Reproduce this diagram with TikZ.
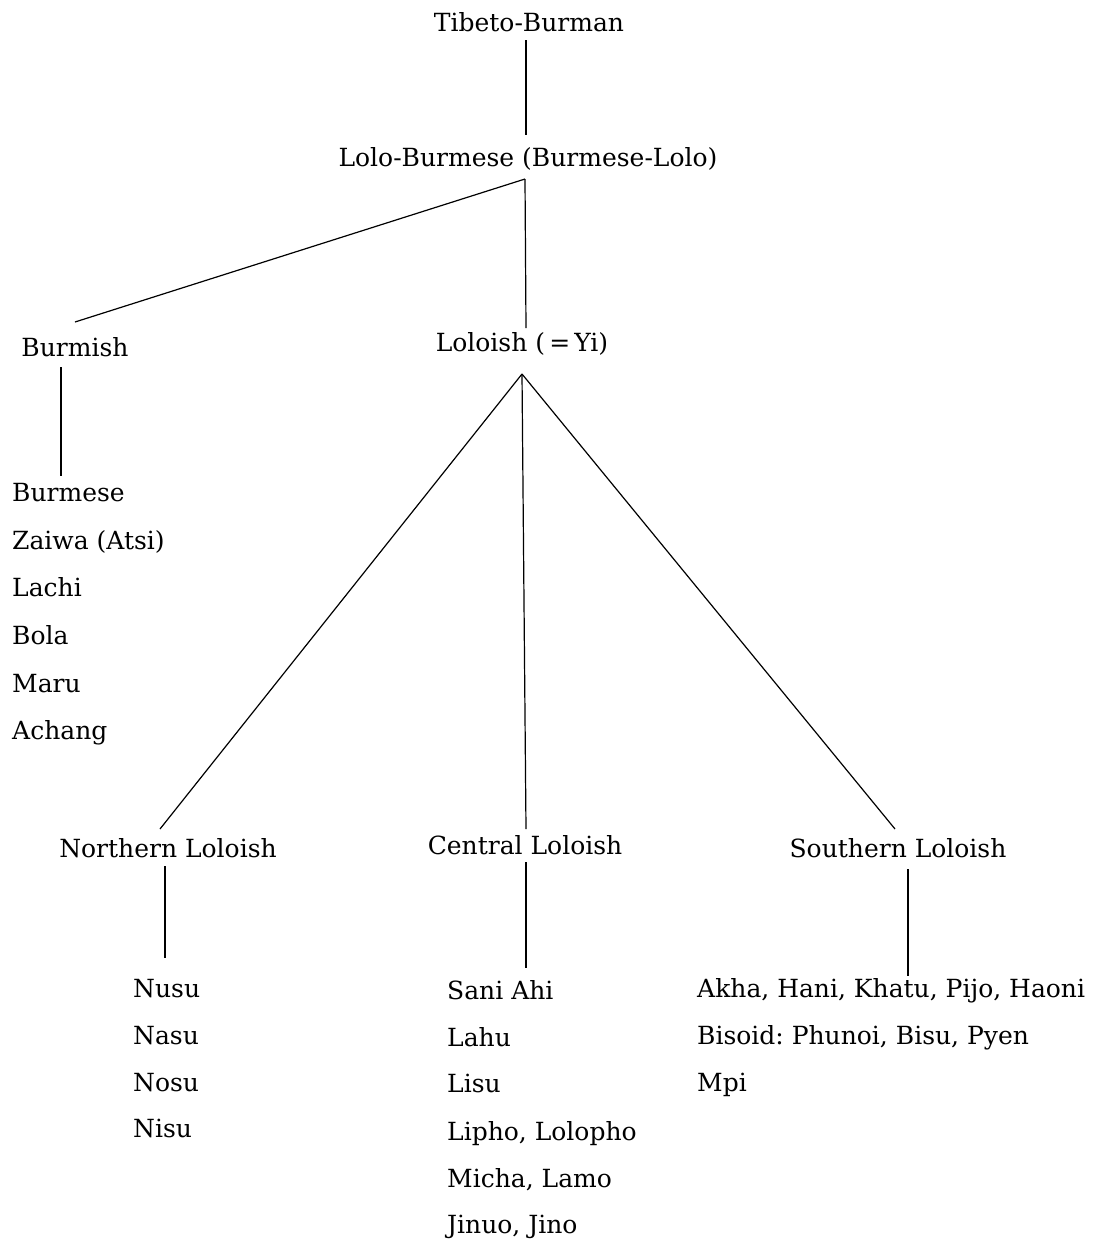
\documentclass[tikz,border=0pt]{standalone}
\usepackage{fontspec}
\setmainfont{DejaVu Serif}
\frenchspacing
\begin{document}
\begin{tikzpicture}[x=1pt,y=-1pt,
  lbl/.style={inner sep=0pt,anchor=base,font=\fontsize{25}{30}\selectfont},
  lst/.style={inner sep=0pt,anchor=base west,font=\fontsize{25}{30}\selectfont},
  edge/.style={line width=1.2pt,black}]
\useasboundingbox[fill=white] (0,0) rectangle (1112,1240);
% headings
\node[lbl] (tb) at (529,31) {Tibeto-Burman};
\node[lbl] (lb) at (528,166) {Lolo-Burmese (Burmese-Lolo)};
\node[lbl] (bm) at (75,356) {Burmish};
\node[lbl] (lo) at (522,351) {Loloish (\,=\,Yi)};
\node[lbl] (nl) at (168,857) {Northern Loloish};
\node[lbl] (cl) at (525,854) {Central Loloish};
\node[lbl] (sl) at (898,857) {Southern Loloish};
% Burmish list
\node[lst] (b1) at (12,501) {Burmese};
\node[lst] (b2) at (12,549) {Zaiwa (Atsi)};
\node[lst] (b3) at (12,596) {Lachi};
\node[lst] (b4) at (12,644) {Bola};
\node[lst] (b5) at (12,692) {Maru};
\node[lst] (b6) at (12,739) {Achang};
% Northern list
\node[lst] (n1) at (133,997) {Nusu};
\node[lst] (n2) at (133,1044) {Nasu};
\node[lst] (n3) at (133,1091) {Nosu};
\node[lst] (n4) at (133,1137) {Nisu};
% Central list
\node[lst] (c1) at (447,999) {Sani Ahi};
\node[lst] (c2) at (447,1046) {Lahu};
\node[lst] (c3) at (447,1092) {Lisu};
\node[lst] (c4) at (447,1140) {Lipho, Lolopho};
\node[lst] (c5) at (447,1187) {Micha, Lamo};
\node[lst] (c6) at (447,1233) {Jinuo, Jino};
% Southern list
\node[lst] (s1) at (697,997) {Akha, Hani, Khatu, Pijo, Haoni};
\node[lst] (s2) at (697,1044) {Bisoid: Phunoi, Bisu, Pyen};
\node[lst] (s3) at (697,1091) {Mpi};
% connector ends
\coordinate (tbB) at (526,40);
\coordinate (lbT) at (526,135);
\coordinate (lbB) at (525,179);
\coordinate (bmT) at (75,322);
\coordinate (loT) at (526,328);
\coordinate (bmB) at (61,367);
\coordinate (b1T) at (61,476);
\coordinate (apex) at (522,374);
\coordinate (nlT) at (160,829);
\coordinate (clT) at (526,829);
\coordinate (slT) at (895,829);
\coordinate (nlB) at (165,866);
\coordinate (n1T) at (165,958);
\coordinate (clB) at (526,862);
\coordinate (c1T) at (526,968);
\coordinate (slB) at (908,869);
\coordinate (s1T) at (908,976);
\draw[edge] (tbB) -- (lbT);
\draw[edge] (lbB) -- (bmT);
\draw[edge] (lbB) -- (loT);
\draw[edge] (bmB) -- (b1T);
\draw[edge] (apex) -- (nlT);
\draw[edge] (apex) -- (clT);
\draw[edge] (apex) -- (slT);
\draw[edge] (nlB) -- (n1T);
\draw[edge] (clB) -- (c1T);
\draw[edge] (slB) -- (s1T);
\end{tikzpicture}
\end{document}
